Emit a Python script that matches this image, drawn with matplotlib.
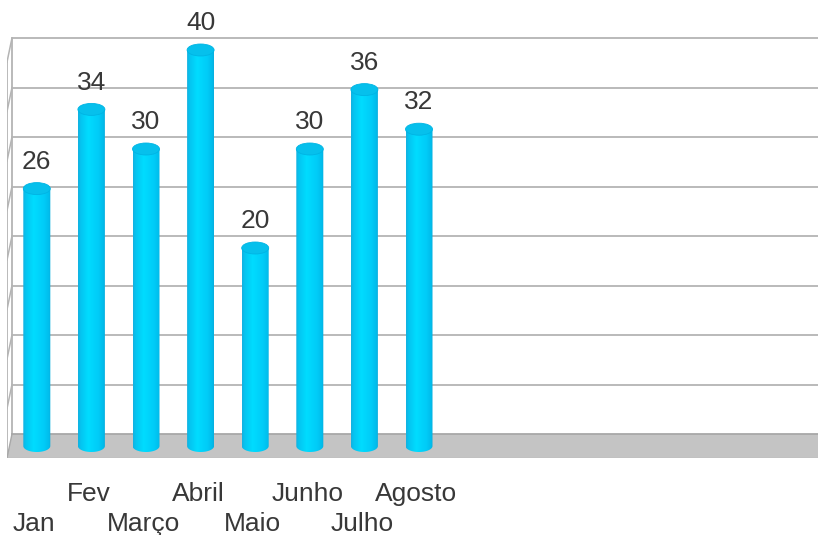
import numpy as np
import matplotlib
matplotlib.use('Agg')
import matplotlib.pyplot as plt
from matplotlib.patches import Polygon, Ellipse
from matplotlib.colors import LinearSegmentedColormap

meses = ['Jan', 'Fev', 'Março', 'Abril', 'Maio', 'Junho', 'Julho', 'Agosto']
valores = [26, 34, 30, 40, 20, 30, 36, 32]
grade = [0, 5, 10, 15, 20, 25, 30, 35, 40]
n_slots = 15

plt.rcParams['font.family'] = ['Liberation Sans', 'DejaVu Sans']

L, A = 818, 535
fig = plt.figure(figsize=(L/100, A/100), dpi=100)
# eixo: x em categorias (54.6 px cada), y em valores (9.9 px por unidade)
px_x, px_y = 54.6, 9.9
ax = fig.add_axes([7/L, 77/A, 811/L, 458/A])
ax.set_xlim(0, 811/px_x)
ax.set_ylim(0, 458/px_y)
ax.axis('off')

# profundidade do "3D"
dx, dy = 5/px_x, 24/px_y
cinza = '#b4b4b4'
xmax = 811/px_x + 0.1
topo = grade[-1]

# parede do fundo
for g in grade[1:]:
    ax.plot([dx, xmax], [g+dy, g+dy], color=cinza, lw=1.3, zorder=1, solid_capstyle='butt')
# parede esquerda
for g in grade[1:]:
    ax.plot([0, dx], [g, g+dy], color=cinza, lw=1.1, zorder=1)
ax.plot([0, 0], [0, topo], color=cinza, lw=1.3, zorder=1)
ax.plot([dx, dx], [dy, topo+dy], color=cinza, lw=1.3, zorder=1)

# piso
piso = Polygon([[0, 0], [xmax, 0], [xmax, dy], [dx, dy]], closed=True,
               facecolor='#c4c4c4', edgecolor='none', zorder=2)
ax.add_patch(piso)
ax.plot([dx, xmax], [dy, dy], color='#a8a8a8', lw=1.3, zorder=2)
ax.plot([0, xmax], [0, 0], color='#b8b8b8', lw=1.0, zorder=2)
ax.plot([0, dx], [0, dy], color='#a8a8a8', lw=1.0, zorder=2)

# cilindros
cmap = LinearSegmentedColormap.from_list('cil', [
    (0.0, '#14b0e0'), (0.1, '#05c4f0'), (0.38, '#00dcff'),
    (0.75, '#00ccf8'), (0.93, '#00bdec'), (1.0, '#0aaede')])
grad = np.linspace(0, 1, 256).reshape(1, -1)
larg = 27/px_x
ry = 6/px_y
t = np.linspace(np.pi, 2*np.pi, 60)
for i, v in enumerate(valores):
    cx = i + 0.5 + dx/2
    base = dy/2
    topo_b = v + dy/2
    xs = cx + larg/2*np.cos(t)
    ys = base + ry*np.sin(t)
    pts = np.column_stack([np.r_[xs, cx+larg/2, cx-larg/2], np.r_[ys, topo_b, topo_b]])
    corpo = Polygon(pts, closed=True, facecolor='none', edgecolor='none', zorder=3)
    ax.add_patch(corpo)
    im = ax.imshow(grad, cmap=cmap, aspect='auto', zorder=3,
                   extent=[cx-larg/2, cx+larg/2, base-ry, topo_b], interpolation='bilinear')
    im.set_clip_path(corpo)
    tampa = Ellipse((cx, topo_b), larg, 2*ry, facecolor='#06c0ec',
                    edgecolor='#00b4e4', lw=0.6, zorder=4)
    ax.add_patch(tampa)
    ax.text(cx, topo_b + 2.0, str(v), ha='center', va='baseline',
            fontsize=19, color='#383838', zorder=5)

# rótulos das categorias em duas linhas alternadas
for i, m in enumerate(meses):
    y = -7.37 if i % 2 == 0 else -4.3
    ax.text(i + 0.5, y, m, ha='center', va='baseline', fontsize=19,
            color='#383838', clip_on=False)

fig.savefig('out.png', dpi=100)
